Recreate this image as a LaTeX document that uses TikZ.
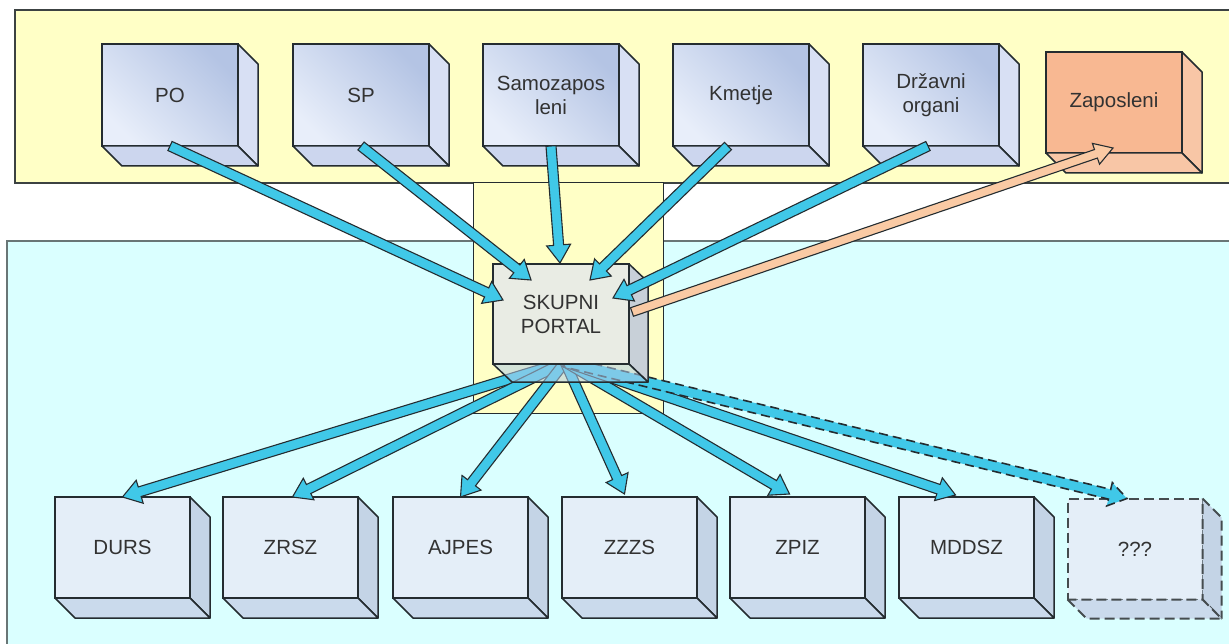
\documentclass[tikz,border=0pt]{standalone}
\usepackage{fontspec}
\setmainfont{Liberation Sans}
\usetikzlibrary{calc}
\definecolor{topband}{RGB}{255,255,198}
\definecolor{botband}{RGB}{218,255,255}
\definecolor{bandline}{RGB}{60,66,66}
\definecolor{bandline2}{RGB}{105,118,118}
\definecolor{tdark}{RGB}{180,196,228}
\definecolor{tlight}{RGB}{232,238,250}
\definecolor{tside}{RGB}{216,224,244}
\definecolor{tbot}{RGB}{204,214,238}
\definecolor{bfront}{RGB}{228,238,248}
\definecolor{bside}{RGB}{196,212,230}
\definecolor{bbot}{RGB}{202,218,236}
\definecolor{zfront}{RGB}{248,184,146}
\definecolor{zside}{RGB}{248,198,166}
\definecolor{pfront}{RGB}{233,236,228}
\definecolor{pside}{RGB}{200,208,216}
\definecolor{pbot}{RGB}{176,204,232}
\definecolor{acyan}{RGB}{64,200,232}
\definecolor{asalmon}{RGB}{250,202,164}
\definecolor{edge}{RGB}{36,44,48}
\definecolor{txt}{RGB}{50,50,50}
\pgfdeclarelayer{bg}
\pgfdeclarelayer{mid}
\pgfsetlayers{bg,mid,main}
\tikzset{
  boxtext/.style={font=\fontsize{20.5}{24}\selectfont, text=txt, align=center,
    inner sep=0pt, outer sep=0pt, line width=1.5pt, draw=edge},
  topbox/.style={boxtext, minimum width=136, minimum height=102,
    shade, top color=tdark, bottom color=tlight, shading angle=-45},
  zapbox/.style={boxtext, minimum width=136, minimum height=101, fill=zfront},
  botbox/.style={boxtext, minimum width=135, minimum height=101, fill=bfront},
  qbox/.style={botbox, line width=2pt, draw=edge!85, dash pattern=on 10pt off 5pt},
  portalbox/.style={boxtext, minimum width=136, minimum height=100, fill=pfront},
  face/.style={draw=edge, line width=1.5pt, line join=round},
  barrow/.style={fill=acyan, draw=edge, line width=1.1pt, line join=miter},
  band/.style={draw=bandline, line width=1.5pt},
}
\newcommand\cubesides[4]{% name, side style, bottom style, depth
  \draw[face,#2] (#1.north east) -- ++(#4,#4) -- ($(#1.south east)+(#4,#4)$) -- (#1.south east) -- cycle;
  \draw[face,#3] (#1.south west) -- ++(#4,#4) -- ($(#1.south east)+(#4,#4)$) -- (#1.south east) -- cycle;}
\newcommand\blockarrow[6][]{% opts, shaft half width, head half width, head length, from, to
  \coordinate (bA) at (#5);
  \coordinate (bB) at (#6);
  \coordinate (bC) at ($(bB)!#4!(bA)$);
  \draw[barrow,#1] ($(bA)!#2!90:(bB)$) -- ($(bC)!#2!-90:(bA)$) -- ($(bC)!#3!-90:(bA)$)
    -- (bB) -- ($(bC)!#3!90:(bA)$) -- ($(bC)!#2!90:(bA)$) -- ($(bA)!#2!-90:(bB)$) -- cycle;}
\begin{document}
\begin{tikzpicture}[x=1pt,y=-1pt]
\useasboundingbox (0,0) rectangle (1229,644);
\begin{pgfonlayer}{bg}
  \draw[band, fill=topband] (15,10) rectangle (1245,183);
  \draw[band, draw=bandline2, line width=2pt, fill=botband] (7,241) rectangle (1245,660);
  \draw[fill=topband, draw=edge, line width=1pt] (473,183) rectangle (663,413);
  % bottom boxes
  \node[botbox] (durs)  at (122.5,547.5) {DURS};
  \node[botbox] (zrsz)  at (290.5,547.5) {ZRSZ};
  \node[botbox] (ajpes) at (460.5,547.5) {AJPES};
  \node[botbox] (zzzs)  at (629.5,547.5) {ZZZS};
  \node[botbox] (zpiz)  at (797.5,547.5) {ZPIZ};
  \node[botbox] (mddsz) at (966.5,547.5) {MDDSZ};
  \node[qbox]   (qqq)   at (1135,549)  {???};
  \foreach \n in {durs,zrsz,ajpes,zzzs,zpiz,mddsz}{\cubesides{\n}{fill=bside}{fill=bbot}{20}}
  \cubesides{qqq}{fill=bside,line width=2pt,draw=edge!85,dash pattern=on 10pt off 5pt}{fill=bbot,line width=2pt,draw=edge!85,dash pattern=on 10pt off 5pt}{19}
\end{pgfonlayer}
% portal
\node[portalbox] (portal) at (561,314) {SKUPNI\\PORTAL};
\coordinate (hub) at ($(portal.south)+(4,-2)$);
\draw[face, fill=pside] (portal.north east) -- ++(19,18) -- ($(portal.south east)+(19,18)$) -- (portal.south east) -- cycle;
\draw[face, fill=pbot, fill opacity=0.55] (portal.south west) -- ++(19,18) -- ($(portal.south east)+(19,18)$) -- (portal.south east) -- cycle;
% top boxes
\node[topbox] (po)   at (170,95) {PO};
\node[topbox] (sp)   at (361,95) {SP};
\node[topbox] (samo) at (551,95) {Samozapos\\leni};
\node[topbox] (kme)  at (741,95) {Kmetje};
\node[topbox] (drz)  at (931,95) {Državni\\organi};
\node[zapbox] (zap)  at (1114,102.5) {Zaposleni};
\foreach \n in {po,sp,samo,kme,drz}{\cubesides{\n}{fill=tside}{fill=tbot}{20}}
\cubesides{zap}{fill=zside}{fill=zside}{20}
% bottom arrows (under portal)
\begin{pgfonlayer}{mid}
  \blockarrow{5pt}{12pt}{18pt}{hub}{durs.north}
  \blockarrow{5pt}{12pt}{18pt}{hub}{$(zrsz.north)+(2,0)$}
  \blockarrow{5pt}{12pt}{18pt}{hub}{ajpes.north}
  \blockarrow{5pt}{12pt}{18pt}{hub}{$(zzzs.north)+(-5,-3)$}
  \blockarrow{5pt}{12pt}{18pt}{hub}{$(zpiz.north)+(-8,-3)$}
  \blockarrow{5pt}{12pt}{18pt}{hub}{$(mddsz.north)+(-11,-2)$}
  \blockarrow[line width=1.6pt, dash pattern=on 9pt off 5pt]{5pt}{12pt}{18pt}{hub}{$(qqq.north)+(-8,0)$}
\end{pgfonlayer}
% top arrows
\blockarrow{5pt}{12pt}{18pt}{po.south}{$(portal.center)+(-58,-14)$}
\blockarrow{5pt}{12pt}{18pt}{sp.south}{$(portal.center)+(-30,-34)$}
\blockarrow{5pt}{12pt}{18pt}{samo.south}{$(portal.center)+(-1,-51)$}
\blockarrow{5pt}{12pt}{18pt}{$(kme.south)+(-13,0)$}{$(portal.center)+(29,-34)$}
\blockarrow{5pt}{12pt}{18pt}{$(drz.south)+(-3,0)$}{$(portal.center)+(52,-16)$}
\blockarrow[fill=asalmon]{4.5pt}{11pt}{18pt}{$(portal.east)+(3,-2)$}{$(zap.south)+(-1,-5)$}
\end{tikzpicture}
\end{document}
